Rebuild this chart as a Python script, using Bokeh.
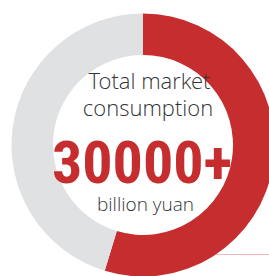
import numpy as np
from bokeh.plotting import figure
from bokeh.embed import file_html
from bokeh.resources import INLINE
from bokeh.core.properties import value
from bokeh.models import ColumnDataSource

# data
segments = ["Share", "Rest"]
shares = [54.7, 45.3]
colors = ["#c62d2f", "#e0e1e3"]
title_lines = ["Total market", "consumption"]
big_value = "30000+"
unit = "billion yuan"

W, H = 269, 276
p = figure(width=W, height=H, x_range=(0, W), y_range=(0, H),
           output_backend="svg", toolbar_location=None, min_border=0,
           outline_line_color=None, background_fill_color="white")
p.axis.visible = False
p.grid.visible = False

cx, cy = 142.5, H - 144.5
r_out, r_in = 131.5, 90

fr = np.array(shares) / sum(shares)
cum = np.concatenate([[0], np.cumsum(fr)])
# clockwise from 12 o'clock
ends = np.pi / 2 - cum[:-1] * 2 * np.pi
starts = np.pi / 2 - cum[1:] * 2 * np.pi
src = ColumnDataSource(dict(start=starts, end=ends, color=colors, name=segments))
p.annular_wedge(x=cx, y=cy, inner_radius=r_in, outer_radius=r_out,
                start_angle="start", end_angle="end", color="color",
                line_color=None, source=src)

# dotted leader
p.line(x=[215, 269], y=[H - 254, H - 254], line_color="#e07070",
       line_dash="1 1", line_width=1)

p.text(x=[149, 147.5], y=[H - 79, H - 106], text=title_lines,
       text_font=value("Open Sans Light"), text_font_size="22px",
       text_color="#333333", text_align="center", text_baseline="alphabetic")
p.text(x=[141.5], y=[H - 161], text=[big_value],
       text_font=value("Roboto Condensed"), text_font_style="bold",
       text_font_size="60px", text_color="#c62d2f",
       text_align="center", text_baseline="alphabetic")
p.text(x=[145], y=[H - 203], text=[unit],
       text_font=value("Open Sans Light"), text_font_size="19px",
       text_color="#333333", text_align="center", text_baseline="alphabetic")

open("out.html", "w").write(file_html(p, INLINE))
